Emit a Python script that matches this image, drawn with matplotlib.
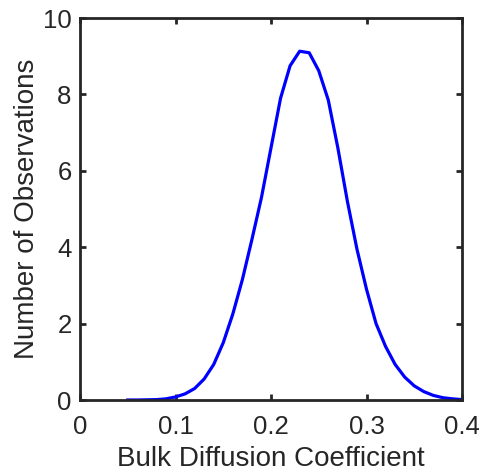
import matplotlib
matplotlib.use("Agg")
import matplotlib.pyplot as plt
import numpy as np

x_vals = [0.05, 0.06, 0.07, 0.08, 0.09, 0.10, 0.11, 0.12, 0.13, 0.14, 0.15, 0.16,
          0.17, 0.18, 0.19, 0.20, 0.21, 0.22, 0.23, 0.24, 0.25, 0.26, 0.27, 0.28,
          0.29, 0.30, 0.31, 0.32, 0.33, 0.34, 0.35, 0.36, 0.37, 0.38, 0.39, 0.40]
density = [0.0, 0.0, 0.005, 0.01, 0.03, 0.08, 0.16, 0.30, 0.55, 0.93, 1.50, 2.25,
           3.15, 4.2, 5.3, 6.6, 7.9, 8.75, 9.13, 9.09, 8.62, 7.85, 6.6, 5.2,
           3.95, 2.9, 2.0, 1.4, 0.93, 0.6, 0.37, 0.22, 0.12, 0.06, 0.03, 0.01]
x_ticks = [0, 0.1, 0.2, 0.3, 0.4]
x_tick_labels = ["0", "0.1", "0.2", "0.3", "0.4"]
y_ticks = [0, 2, 4, 6, 8, 10]
y_tick_labels = ["0", "2", "4", "6", "8", "10"]

plt.rcParams['font.family'] = ['Liberation Sans', 'DejaVu Sans']

fig = plt.figure(figsize=(4.79, 4.75), dpi=100)
ax = fig.add_axes([80/479, 75/475, 382/479, 382/475])
ax.plot(x_vals, density, color=(0, 0, 1), lw=2.3)
ax.set_xlim(0, 0.4)
ax.set_ylim(0, 10)
ax.set_xticks(x_ticks)
ax.set_xticklabels(x_tick_labels)
ax.set_yticks(y_ticks)
ax.set_yticklabels(y_tick_labels)
dark = '#262626'
for s in ax.spines.values():
    s.set_linewidth(2.0)
    s.set_color(dark)
ax.tick_params(direction='in', length=4, width=2, top=True, right=True,
               labelsize=18.5, colors=dark, labelcolor=dark, pad=6)
ax.tick_params(axis='x', pad=11)
ax.set_xlabel("Bulk Diffusion Coefficient", fontsize=20, color=dark, labelpad=5)
ax.set_ylabel("Number of Observations", fontsize=20, color=dark, labelpad=2)
fig.savefig("out.png", dpi=100)
